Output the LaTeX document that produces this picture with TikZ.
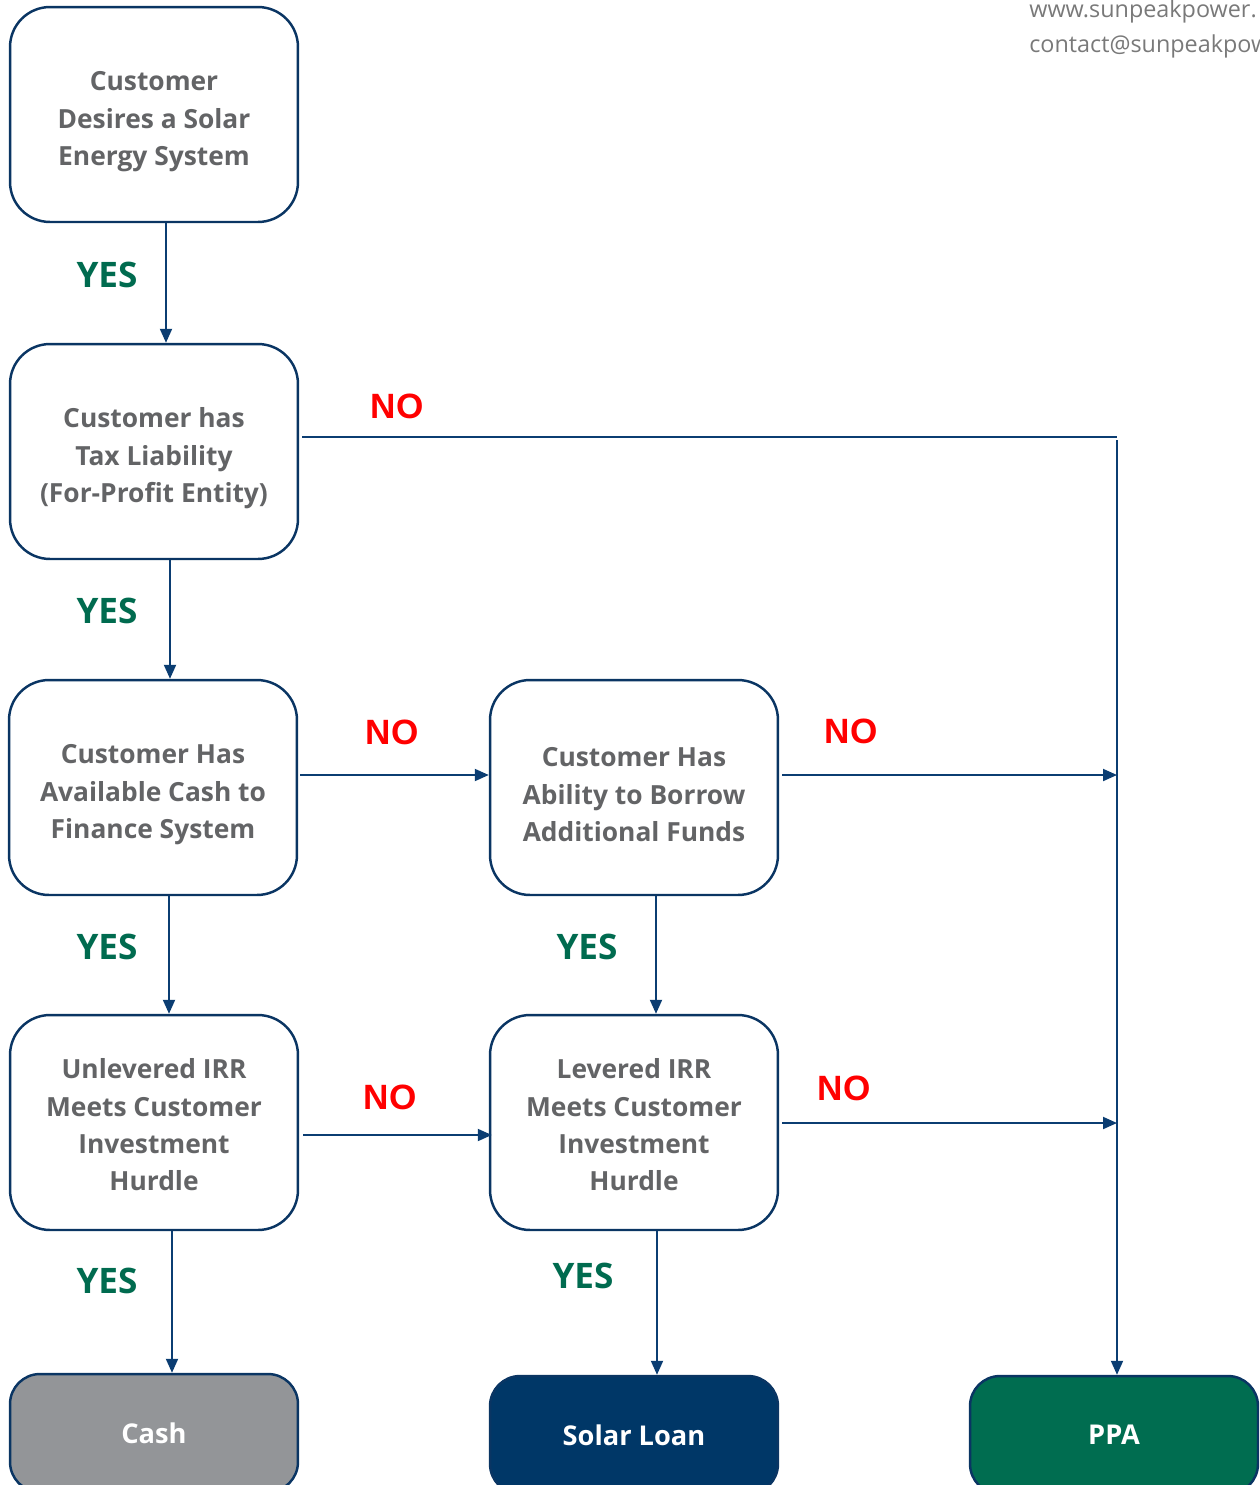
\documentclass[tikz,border=0pt]{standalone}
\usepackage{fontspec}
\setmainfont{Open Sans}
\newfontfamily\arialf{Liberation Sans}
\usetikzlibrary{arrows.meta,calc}
\definecolor{navy}{HTML}{0B3D72}
\definecolor{boxline}{HTML}{0A3563}
\definecolor{txtgray}{HTML}{636466}
\definecolor{yesgreen}{HTML}{006B4F}
\definecolor{loanblue}{HTML}{003767}
\definecolor{cashgray}{HTML}{939598}
\definecolor{ppagreen}{HTML}{006D50}
\newcommand\topstrut{\rule{0pt}{19pt}}
\newcommand\topstrutb{\rule{0pt}{14pt}}
\begin{document}
\begin{tikzpicture}[x=0.02cm,y=-0.02cm,
  decbox/.style={draw=boxline,line width=1.4pt,rounded corners=0.8cm,fill=white,
    minimum width=5.76cm,minimum height=4.3cm,align=center,text=txtgray,
    font=\bfseries\fontsize{15}{21.2}\selectfont},
  endbox/.style={draw=boxline,line width=1.4pt,rounded corners=0.6cm,
    minimum width=5.76cm,minimum height=2.36cm,align=center,text=white,
    font=\bfseries\fontsize{15.5}{21}\selectfont},
  conn/.style={draw=navy,line width=1.1pt},
  arr/.style={conn,-{Triangle[length=0.28cm,width=0.24cm]}},
  yeslab/.style={text=yesgreen,font=\bfseries\fontsize{20}{22}\selectfont},
  nolab/.style={text=red,font=\arialf\bfseries\fontsize{20}{22}\selectfont},
  weblab/.style={anchor=base west,text=gray!95!black,font=\fontsize{13.3}{16}\selectfont,inner sep=0pt}]
\useasboundingbox (0,0) rectangle (1260,1485);
% decision boxes
\node[decbox] (b1) at (154,114.5) {\topstrut Customer\\Desires a Solar\\Energy System};
\node[decbox] (b2) at (154,451.5) {\topstrut Customer has\\Tax Liability\\(For-Profit Entity)};
\node[decbox] (b3) at (153,787.5) {\topstrut Customer Has\\Available Cash to\\Finance System};
\node[decbox] (b4) at (634,787.5) {\topstrut Customer Has\\Ability to Borrow\\Additional Funds};
\node[decbox] (b5) at (154,1122.5) {\topstrutb Unlevered IRR\\Meets Customer\\Investment\\Hurdle};
\node[decbox] (b6) at (634,1122.5) {\topstrutb Levered IRR\\Meets Customer\\Investment\\Hurdle};
% end boxes
\node[endbox,fill=cashgray] (cash) at (154,1433) {Cash};
\node[endbox,fill=loanblue] (loan) at (634,1435) {Solar Loan};
\node[endbox,fill=ppagreen] (ppa) at (1114,1435) {PPA};
% web text
\node[weblab] (web) at (1029,17) {www.sunpeakpower.};
\node[weblab] (mail) at (1029,52) {contact@sunpeakpow};
% helper coordinates
\coordinate (j1) at (1117,437);
\coordinate (j2) at (1117,775);
\coordinate (j3) at (1117,1123);
\coordinate (y437) at (0,437);
\coordinate (y775) at (0,775);
\coordinate (y1135) at (0,1135);
\coordinate (y1123) at (0,1123);
% connectors
\draw[arr] ($(b1.south)+(12,0)$) -- ($(b2.north)+(12,0)$);
\draw[arr] ($(b2.south)+(16,0)$) -- ($(b3.north)+(17,0)$);
\draw[arr] ($(b3.south)+(16,0)$) -- ($(b5.north)+(15,0)$);
\draw[arr] ($(b5.south)+(18,0)$) -- ($(cash.north)+(18,0)$);
\draw[arr] ($(b4.south)+(22,0)$) -- ($(b6.north)+(22,0)$);
\draw[arr] ($(b6.south)+(23,0)$) -- ($(loan.north)+(23,0)$);
\draw[conn] ($(b2.east |- y437)+(3,0)$) -- (j1);
\draw[arr] ($(j1)+(0,3)$) -- (j1 |- ppa.north);
\draw[arr] ($(b3.east |- y775)+(2,0)$) -- (b4.west |- y775);
\draw[arr] ($(b4.east |- y775)+(3,0)$) -- (j2);
\draw[arr] ($(b5.east |- y1135)+(4,0)$) -- ($(b6.west |- y1135)+(3,0)$);
\draw[arr] ($(b6.east |- y1123)+(3,0)$) -- (j3);
% labels
\node[yeslab] (l1) at (107,275) {YES};
\node[yeslab] (l2) at (107,611) {YES};
\node[yeslab] (l3) at (107,947) {YES};
\node[yeslab] (l4) at (587,947) {YES};
\node[yeslab] (l5) at (107,1281) {YES};
\node[yeslab] (l6) at (583,1276) {YES};
\node[nolab] (n1) at (397,406) {NO};
\node[nolab] (n2) at (392,732) {NO};
\node[nolab] (n3) at (851,731) {NO};
\node[nolab] (n4) at (390,1097) {NO};
\node[nolab] (n5) at (844,1088) {NO};
\end{tikzpicture}
\end{document}
